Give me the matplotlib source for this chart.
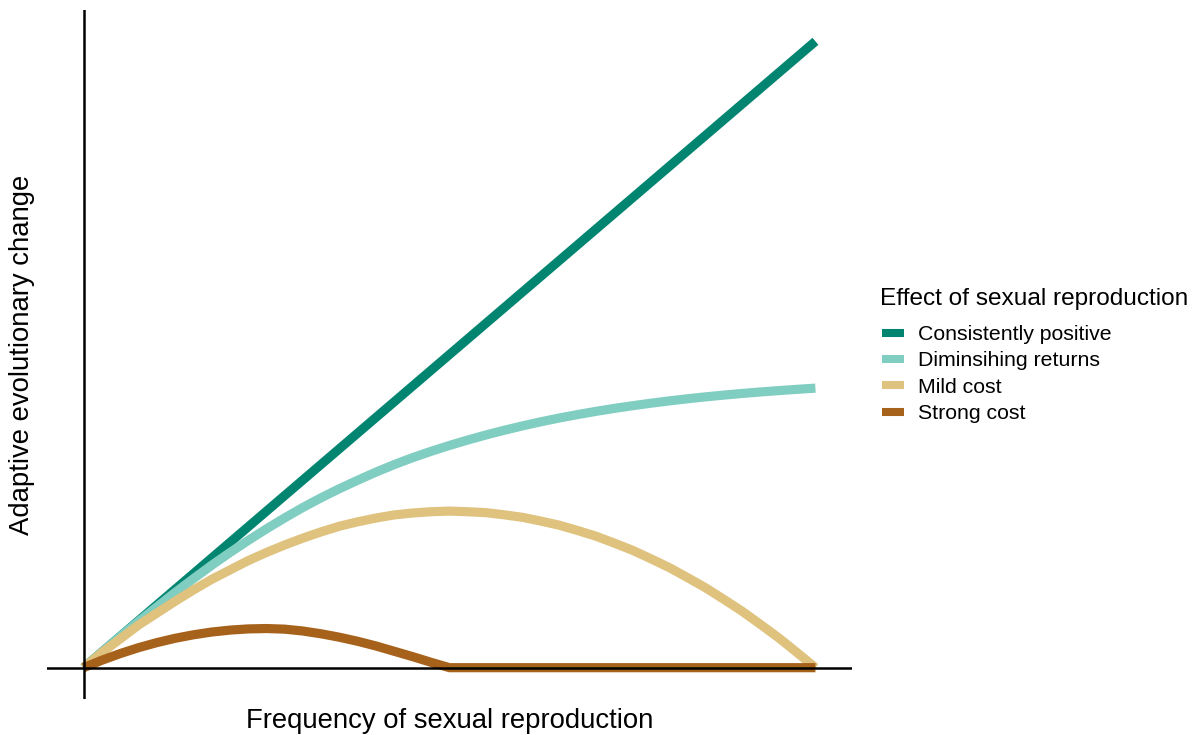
import matplotlib.pyplot as plt

# values (x = frequency of sex, y = adaptive change)
frequency = [0.000, 0.025, 0.050, 0.075, 0.100, 0.125, 0.150, 0.175, 0.200, 0.225,
             0.250, 0.275, 0.300, 0.325, 0.350, 0.375, 0.400, 0.425, 0.450, 0.475,
             0.500, 0.525, 0.550, 0.575, 0.600, 0.625, 0.650, 0.675, 0.700, 0.725,
             0.750, 0.775, 0.800, 0.825, 0.850, 0.875, 0.900, 0.925, 0.950, 0.975, 1.000]
consistently_positive = [0.000, 0.025, 0.050, 0.075, 0.100, 0.125, 0.150, 0.175, 0.200, 0.225,
                         0.250, 0.275, 0.300, 0.325, 0.350, 0.375, 0.400, 0.425, 0.450, 0.475,
                         0.500, 0.525, 0.550, 0.575, 0.600, 0.625, 0.650, 0.675, 0.700, 0.725,
                         0.750, 0.775, 0.800, 0.825, 0.850, 0.875, 0.900, 0.925, 0.950, 0.975, 1.000]
diminishing_returns = [0.0000, 0.0250, 0.0498, 0.0738, 0.0970, 0.1200, 0.1420, 0.1635, 0.1838, 0.2032,
                       0.2217, 0.2393, 0.2560, 0.2715, 0.2860, 0.2995, 0.3125, 0.3245, 0.3355, 0.3455,
                       0.3548, 0.3635, 0.3716, 0.3791, 0.3861, 0.3926, 0.3986, 0.4041, 0.4092, 0.4139,
                       0.4182, 0.4222, 0.4259, 0.4293, 0.4324, 0.4352, 0.4378, 0.4402, 0.4424, 0.4444, 0.4463]
mild_cost = [0.000, 0.024, 0.046, 0.068, 0.087, 0.106, 0.124, 0.141, 0.156, 0.171,
             0.184, 0.196, 0.207, 0.217, 0.226, 0.233, 0.239, 0.244, 0.247, 0.249,
             0.250, 0.249, 0.2475, 0.244, 0.240, 0.234, 0.2275, 0.219, 0.210, 0.199,
             0.1875, 0.174, 0.160, 0.144, 0.1275, 0.109, 0.090, 0.069, 0.0475, 0.024, 0.000]
strong_cost = [0.0000, 0.0119, 0.0225, 0.0319, 0.0400, 0.0469, 0.0525, 0.0569, 0.0600, 0.0619,
               0.0625, 0.0615, 0.0585, 0.0540, 0.0485, 0.0420, 0.0345, 0.0260, 0.0175, 0.0085,
               0.0000, 0.0000, 0.0000, 0.0000, 0.0000, 0.0000, 0.0000, 0.0000, 0.0000, 0.0000,
               0.0000, 0.0000, 0.0000, 0.0000, 0.0000, 0.0000, 0.0000, 0.0000, 0.0000, 0.0000, 0.0000]

labels = ["Consistently positive", "Diminsihing returns", "Mild cost", "Strong cost"]
colors = ["#018571", "#80cdc1", "#dfc27d", "#a6611a"]

plt.rcParams['font.family'] = ['Liberation Sans', 'DejaVu Sans']

fig = plt.figure(figsize=(11.99, 7.35), dpi=100)
ax = fig.add_axes([47 / 1199, 36 / 735, 805 / 1199, 689 / 735])

series = [consistently_positive, diminishing_returns, mild_cost, strong_cost]
for ys, lab, col in zip(series, labels, colors):
    ax.plot(frequency, ys, color=col, lw=6.6, label=lab,
            solid_capstyle='butt', solid_joinstyle='round', zorder=2)

# axis lines through zero
ax.axhline(0, color='black', lw=1.8, zorder=3)
ax.axvline(0, color='black', lw=1.8, zorder=3)

ax.set_xlim(-0.05, 1.05)
ax.set_ylim(-0.05, 1.05)
for s in ax.spines.values():
    s.set_visible(False)
ax.set_xticks([])
ax.set_yticks([])

fig.text(449.5 / 1199, 1 - 721 / 735, "Frequency of sexual reproduction",
         fontsize=19.8, ha='center', va='center')
fig.text(22 / 1199, 1 - 354.5 / 735, "Adaptive evolutionary change",
         fontsize=19.8, ha='center', va='center', rotation=90)

# legend title placed on its own, legend rows below
fig.text(880 / 1199, 1 - 299 / 735, "Effect of sexual reproduction",
         fontsize=17.6, ha='left', va='center')
handles = [plt.Line2D([], [], color=c, lw=5.8, solid_capstyle='butt') for c in colors]
leg = fig.legend(handles, labels,
                 loc='upper left', bbox_to_anchor=(882 / 1199, 1 - 325 / 735),
                 frameon=False, fontsize=15.3,
                 handlelength=1.02, handletextpad=0.69, labelspacing=0.35,
                 borderpad=0, borderaxespad=0)

fig.savefig("out.png", dpi=100)
